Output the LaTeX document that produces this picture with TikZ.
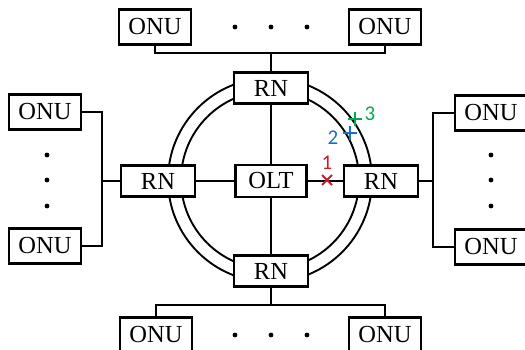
\documentclass[tikz,border=0pt]{standalone}
\usepackage{fontspec}
\setmainfont{Liberation Serif}
\newfontfamily\markfont{Carlito}
\usetikzlibrary{calc}

\definecolor{cutred}{RGB}{200,30,40}
\definecolor{cutblue}{RGB}{30,110,200}
\definecolor{cutgreen}{RGB}{0,170,80}

\tikzset{
    unit/.style={draw, line width=2.8pt, fill=white, inner sep=0pt,
        font=\fontsize{24.5}{26}\selectfont},
    onu/.style={unit, minimum width=72pt, minimum height=35pt},
    rn/.style={unit, minimum width=74pt, minimum height=31pt},
    link/.style={line width=1.7pt},
    ring/.style={line width=1.9pt},
    cut/.style={line width=2pt},
    marklabel/.style={font=\markfont\fontsize{21}{22}\selectfont, inner sep=0pt}
}

\begin{document}
\begin{tikzpicture}[x=1pt, y=-1pt]

    \useasboundingbox (0,0) rectangle (525,350);

    % Ring
    \coordinate (C) at (270,180);
    \draw[ring] (C) circle (102);
    \draw[ring] (C) circle (89);

    % OLT and remote nodes
    \node[rn, minimum width=71pt, minimum height=32pt] (olt) at (271,181) {OLT};
    \node[rn] (rnT) at (271,88)  {RN};
    \node[rn] (rnB) at (271,271) {RN};
    \node[rn] (rnL) at (158,181) {RN};
    \node[rn] (rnR) at (381,181) {RN};

    % ONUs
    \node[onu] (onuT1) at (155,27)  {ONU};
    \node[onu] (onuT2) at (385,27)  {ONU};
    \node[onu] (onuB1) at (156,335) {ONU};
    \node[onu] (onuB2) at (385,335) {ONU};
    \node[onu] (onuL1) at (45,112)  {ONU};
    \node[onu] (onuL2) at (45,246)  {ONU};
    \node[onu] (onuR1) at (491,113) {ONU};
    \node[onu] (onuR2) at (491,247) {ONU};

    % Feeder lines
    \draw[link] (olt) -- (rnT);
    \draw[link] (olt) -- (rnB);
    \draw[link] (olt) -- (rnL);
    \draw[link] (olt) -- (rnR);

    % Distribution lines
    \coordinate (busT) at (271,53);
    \coordinate (busB) at (271,305);
    \coordinate (busL) at (102,181);
    \coordinate (busR) at (433,181);

    \draw[link] (onuT1.south) |- (busT) -| (onuT2.south);
    \draw[link] (busT) -- (rnT.north);
    \draw[link] (onuB1.north) |- (busB) -| (onuB2.north);
    \draw[link] (busB) -- (rnB.south);
    \draw[link] (onuL1.east) -| (busL) |- (onuL2.east);
    \draw[link] (busL) -- (rnL.west);
    \draw[link] (onuR1.west) -| (busR) |- (onuR2.west);
    \draw[link] (busR) -- (rnR.east);

    % Dots
    \foreach \x in {235,271,307} {
        \fill (\x,27) circle (2.4);
        \fill (\x,335) circle (2.4);
    }
    \foreach \y in {155,180,206} {
        \fill (47,\y) circle (2.4);
        \fill (491,\y) circle (2.4);
    }

    % Break points
    \coordinate (P1) at (327,180);
    \coordinate (P2) at (350,133);
    \coordinate (P3) at (355,119);

    \draw[cut, cutred] ($(P1)+(-5,-5)$) -- ($(P1)+(5,5)$);
    \draw[cut, cutred] ($(P1)+(-5,5)$) -- ($(P1)+(5,-5)$);
    \draw[cut, cutblue] ($(P2)+(-7,0)$) -- ($(P2)+(7,0)$);
    \draw[cut, cutblue] ($(P2)+(0,-7)$) -- ($(P2)+(0,7)$);
    \draw[cut, cutgreen] ($(P3)+(-7,0)$) -- ($(P3)+(7,0)$);
    \draw[cut, cutgreen] ($(P3)+(0,-7)$) -- ($(P3)+(0,7)$);

    \node[marklabel, text=cutred]   (n1) at (327,163) {1};
    \node[marklabel, text=cutblue]  (n2) at (333,138) {2};
    \node[marklabel, text=cutgreen] (n3) at (370,114) {3};

\end{tikzpicture}
\end{document}
